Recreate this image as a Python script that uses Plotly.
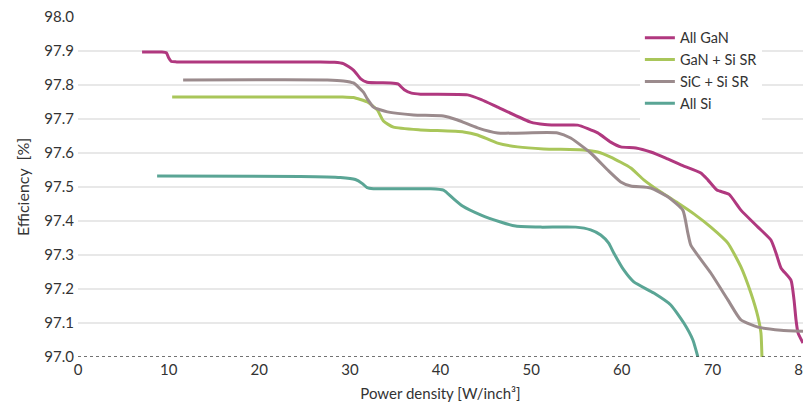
import plotly.graph_objects as go

# ---- data ----
gan_x = [7.07, 9.2, 9.75, 10.0, 10.3, 10.9, 26.74, 28.3, 29.28, 30.39, 31.2, 31.9, 34.5, 35.3, 36.0, 36.8,
         37.8, 42.98, 44.5, 46.30, 49.94, 51.5, 53.59, 55.14, 57.35, 58.78, 59.89, 61.55, 63.20, 64.86,
         66.52, 68.73, 69.50, 70.50, 71.82, 73.15, 75.03, 76.46, 77.02, 77.57, 78.67, 79.01, 79.23,
         79.45, 80.0]
gan_y = [97.897, 97.897, 97.895, 97.880, 97.869, 97.868, 97.868, 97.867, 97.863, 97.844, 97.818, 97.808,
         97.806, 97.803, 97.786, 97.776, 97.773, 97.771, 97.757, 97.735, 97.691, 97.684, 97.682, 97.682,
         97.659, 97.632, 97.618, 97.615, 97.603, 97.585, 97.565, 97.541, 97.521, 97.491, 97.479,
         97.432, 97.382, 97.344, 97.306, 97.262, 97.226, 97.168, 97.109, 97.071, 97.041]

gansi_x = [10.39, 29.2, 30.39, 31.93, 33.04, 33.70, 34.81, 37.79, 42.54, 44.09, 46.30, 48.51, 51.38,
           55.80, 57.35, 58.78, 61.00, 62.43, 64.31, 66.19, 67.96, 69.83, 71.71, 73.15, 74.25, 75.03,
           75.36, 75.47]
gansi_y = [97.765, 97.765, 97.763, 97.750, 97.726, 97.694, 97.676, 97.668, 97.662, 97.653, 97.629,
           97.618, 97.612, 97.609, 97.603, 97.588, 97.556, 97.521, 97.485, 97.453, 97.421, 97.382,
           97.335, 97.265, 97.188, 97.118, 97.071, 97.0]

sic_x = [11.60, 27.5, 29.3, 30.39, 31.49, 31.93, 32.60, 34.14, 37.02, 40.33, 41.88, 44.09, 46.30,
         52.93, 54.36, 56.57, 58.45, 59.89, 60.99, 63.20, 65.08, 66.74, 67.29, 67.62, 69.83, 71.71,
         73.15, 75.03, 77.57, 80.0]
sic_y = [97.815, 97.815, 97.812, 97.806, 97.779, 97.759, 97.735, 97.721, 97.712, 97.709, 97.697,
         97.674, 97.659, 97.659, 97.644, 97.600, 97.550, 97.515, 97.503, 97.497, 97.471, 97.432,
         97.365, 97.329, 97.247, 97.168, 97.109, 97.088, 97.079, 97.076]

si_x = [8.73, 24.53, 28.95, 30.61, 31.38, 31.9, 32.6, 38.90, 40.33, 41.33, 42.43, 44.42, 46.63, 48.29,
        51.05, 54.92, 56.57, 57.68, 58.56, 59.12, 60.22, 61.33, 63.54, 65.41, 66.85, 67.85, 68.40]
si_y = [97.532, 97.531, 97.528, 97.522, 97.510, 97.498, 97.495, 97.495, 97.491, 97.468, 97.444,
        97.418, 97.397, 97.385, 97.382, 97.382, 97.374, 97.359, 97.335, 97.306, 97.256, 97.221,
        97.188, 97.153, 97.100, 97.050, 97.0]

series_names = ["All GaN", "GaN + Si SR", "SiC + Si SR", "All Si"]
series_colors = ["#b0387f", "#a9c65a", "#9b8b8d", "#5aa595"]

x_ticks = [0, 10, 20, 30, 40, 50, 60, 70, 80]
y_ticks = [97.0, 97.1, 97.2, 97.3, 97.4, 97.5, 97.6, 97.7, 97.8, 97.9, 98.0]

FONT = "Lato"
TXT = "#333333"
fig = go.Figure()
for name, xs, ys, c in zip(series_names,
                           [gan_x, gansi_x, sic_x, si_x],
                           [gan_y, gansi_y, sic_y, si_y],
                           series_colors):
    fig.add_trace(go.Scatter(x=xs, y=ys, name=name, mode="lines",
                             line=dict(color=c, width=3, shape="spline", smoothing=0.5)))

fig.add_shape(type="line", xref="paper", yref="y", x0=0, x1=1, y0=97.0, y1=97.0,
              line=dict(color="#444444", width=1.5, dash="dot"), layer="above")

fig.update_layout(
    width=803, height=405,
    margin=dict(l=78, r=0, t=17, b=48),
    paper_bgcolor="white", plot_bgcolor="white",
    font=dict(family=FONT, size=15, color=TXT),
    showlegend=True,
    legend=dict(x=0.775, y=0.986, xanchor="left", yanchor="top", bgcolor="white",
                font=dict(family=FONT, size=14.5, color=TXT),
                tracegroupgap=0, itemwidth=30),
    xaxis=dict(range=[0, 80], tickvals=x_ticks, automargin=False,
               showgrid=False, zeroline=False, showline=False, ticks="",
               ticklabeloverflow="allow", tickfont=dict(size=15), ticklabelstandoff=2,
               title=dict(text="Power density [W/inch³]", standoff=11,
                          font=dict(family=FONT, size=15, color=TXT))),
    yaxis=dict(range=[97.0, 98.0], tickvals=y_ticks, automargin=False,
               tickformat=".1f", showgrid=True, gridcolor="#e8e8e8", gridwidth=1.5,
               zeroline=False, showline=False, ticks="", ticklabelstandoff=3,
               tickfont=dict(size=15),
               title=dict(text="Efficiency\u00a0\u00a0[%]", standoff=10,
                          font=dict(family=FONT, size=16, color=TXT))),
)

fig.write_html("out.html", config={"displayModeBar": False},
               post_script="document.body.style.margin='0';document.body.style.padding='0';")
